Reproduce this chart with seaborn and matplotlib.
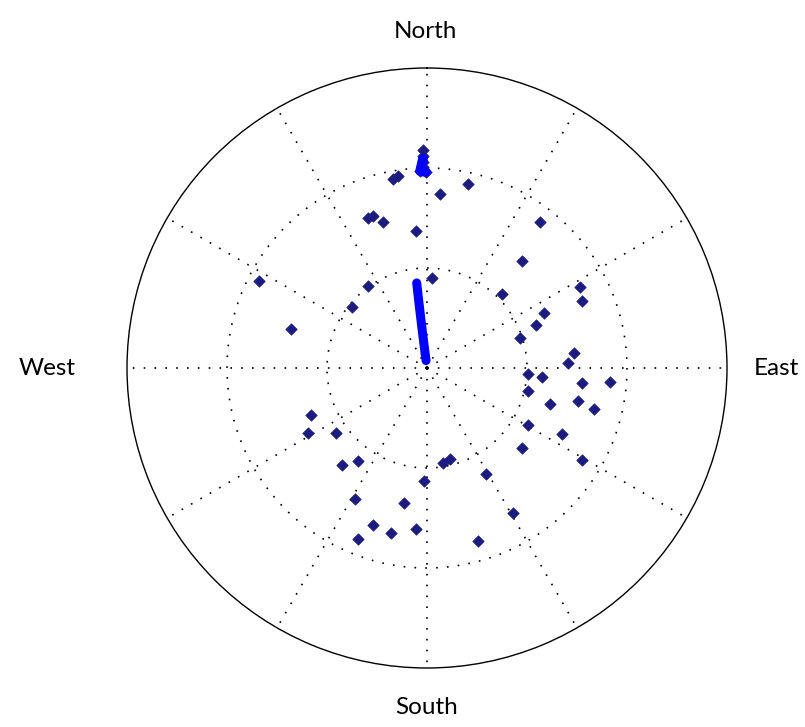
import numpy as np
import pandas as pd
import seaborn as sns
import matplotlib
matplotlib.use("Agg")
import matplotlib.pyplot as plt

# ---------------------------------------------------------- #
# data: compass bearing (deg, clockwise from north) and range
# ---------------------------------------------------------- #
bearing = [349.8, 351.4, 12.6, 4.3, 338.5, 340.4, 343.2, 355.4, 37.7, 41.6,
           3.2, 324.3, 297.4, 286.0, 309.1, 45.4, 62.1, 66.6, 64.8, 68.5,
           72.1, 84.2, 88.0, 93.4, 94.5, 95.5, 94.4, 102.8, 106.3, 102.3,
           103.8, 119.4, 116.1, 130.1, 120.7, 247.9, 241.4, 234.5, 221.2, 216.6,
           170.4, 165.8, 181.5, 150.9, 208.8, 189.7, 149.3, 199.0, 192.3, 183.9,
           202.0, 163.6]
distance = [1.92, 1.94, 1.885, 1.745, 1.612, 1.613, 1.525, 1.374, 1.846, 1.431,
            0.901, 1.01, 1.892, 1.415, 0.967, 1.054, 1.731, 1.689, 1.293, 1.172,
            0.977, 1.478, 1.411, 1.012, 1.154, 1.557, 1.835, 1.036, 1.282, 1.546,
            1.72, 1.16, 1.503, 1.242, 1.802, 1.252, 1.356, 1.118, 1.29, 1.158,
            0.963, 0.939, 1.13, 1.213, 1.495, 1.369, 1.686, 1.66, 1.689, 1.614,
            1.844, 1.804]

# dense track near the centre
track_bearing = [352.6, 352.6, 352.7, 352.7, 352.8, 352.8, 352.9, 353.0, 353.0, 353.1]
track_distance = [0.03, 0.12, 0.21, 0.30, 0.39, 0.48, 0.57, 0.66, 0.76, 0.857]

# cluster at the top
top_bearing = [358.9, 358.9, 358.9, 358.9, 358.0, 359.7]
top_distance = [2.18, 2.12, 2.06, 2.01, 1.971, 1.96]

labels = ["North", "East", "South", "West"]

df = pd.DataFrame({"theta": np.deg2rad(bearing), "r": distance})
track = pd.DataFrame({"theta": np.deg2rad(track_bearing), "r": track_distance})
top = pd.DataFrame({"theta": np.deg2rad(top_bearing), "r": top_distance})

sns.set_style("white")
plt.rcParams['font.family'] = ['Lato', 'DejaVu Sans']

fig = plt.figure(figsize=(8.05, 7.27), dpi=100)
ax = fig.add_axes([127 / 805, 1 - 668 / 727, 600 / 805, 600 / 727], projection="polar")
ax.set_theta_zero_location("N")
ax.set_theta_direction(-1)
ax.set_ylim(0, 3)

# grid: dotted rings and spokes
ax.grid(False)
ax.set_xticks([])
ax.set_yticks([])
dots = dict(color="black", lw=1.2, linestyle=(0, (1, 5.5)), zorder=1)
ring = np.linspace(0, 2 * np.pi, 361)
for rr in [1, 2]:
    ax.plot(ring, np.full_like(ring, rr), **dots)
for a in range(0, 360, 30):
    ax.plot([np.deg2rad(a)] * 2, [0, 3], **dots)
ax.spines["polar"].set_color("black")
ax.spines["polar"].set_linewidth(1.0)

navy = "#1c1c80"
sns.scatterplot(data=top, x="theta", y="r", marker="D", s=34, color=navy,
                edgecolor=navy, linewidth=0.5, ax=ax, zorder=3)
sns.lineplot(data=track, x="theta", y="r", sort=False, color="#0000ff", lw=6.5, ax=ax, zorder=4)
sns.lineplot(data=top, x="theta", y="r", sort=False, color="#0000ff", lw=7, ax=ax, zorder=4)
sns.scatterplot(data=df, x="theta", y="r", marker="D", s=34, color=navy,
                edgecolor=navy, linewidth=0.5, ax=ax, zorder=5)
ax.set_xlabel("")
ax.set_ylabel("")

pos = {"North": (425, 31), "East": (776, 368), "South": (427, 708), "West": (47, 368)}
for lab in labels:
    x, y = pos[lab]
    fig.text(x / 805, 1 - y / 727, lab, ha="center", va="center", fontsize=17.5, color="black")

fig.savefig("out.png", dpi=100)
